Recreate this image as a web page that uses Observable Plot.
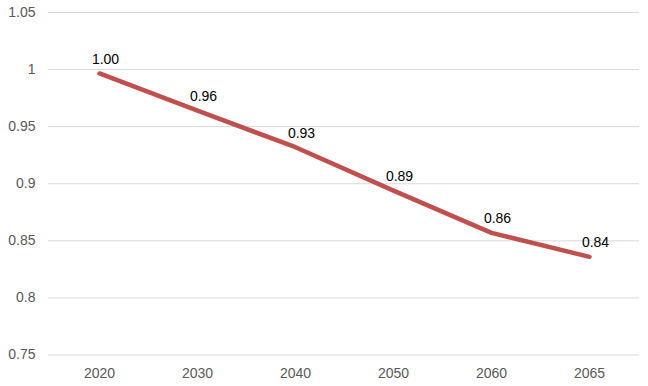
<!DOCTYPE html>
<html>
<head>
<meta charset="utf-8">
<script src="https://cdn.jsdelivr.net/npm/d3@7"></script>
<script src="https://cdn.jsdelivr.net/npm/@observablehq/plot@0.6"></script>
<style>
  html, body { margin: 0; padding: 0; background: #fff; }
  #chart svg { display: block; }
</style>
</head>
<body>
<div id="chart"></div>
<script>
const years = ["2020", "2030", "2040", "2050", "2060", "2065"];
const values = [0.9966, 0.964, 0.932, 0.894, 0.857, 0.836];
const yTicks = [0.75, 0.8, 0.85, 0.9, 0.95, 1, 1.05];

const data = years.map((y, i) => ({year: y, value: values[i]}));

const chart = Plot.plot({
  width: 648,
  height: 386,
  marginTop: 12,
  marginBottom: 31.5,
  marginLeft: 48,
  marginRight: 9,
  style: {fontFamily: "'Liberation Sans', Arial, sans-serif", fontSize: "14px", background: "#fff"},
  x: {type: "point", domain: years, padding: 0.5, label: null},
  y: {domain: [0.75, 1.05], label: null},
  marks: [
    Plot.gridY(yTicks, {stroke: "#d9d9d9", strokeOpacity: 1, strokeWidth: 1}),
    Plot.axisY(yTicks, {tickSize: 0, tickPadding: 13, tickFormat: d3.format("~g"), fill: "#595959", label: null, fontSize: 14}),
    Plot.axisX({tickSize: 0, tickPadding: 13, fill: "#595959", label: null, fontSize: 14}),
    Plot.line(data, {x: "year", y: "value", stroke: "#c0504d", strokeWidth: 4.5, strokeLinecap: "round", strokeLinejoin: "round"}),
    Plot.text(data, {x: "year", y: "value", text: d => d.value.toFixed(2), dy: -14, dx: 6, fill: "#000", fontSize: 14})
  ]
});
document.getElementById("chart").appendChild(chart);
</script>
</body>
</html>
